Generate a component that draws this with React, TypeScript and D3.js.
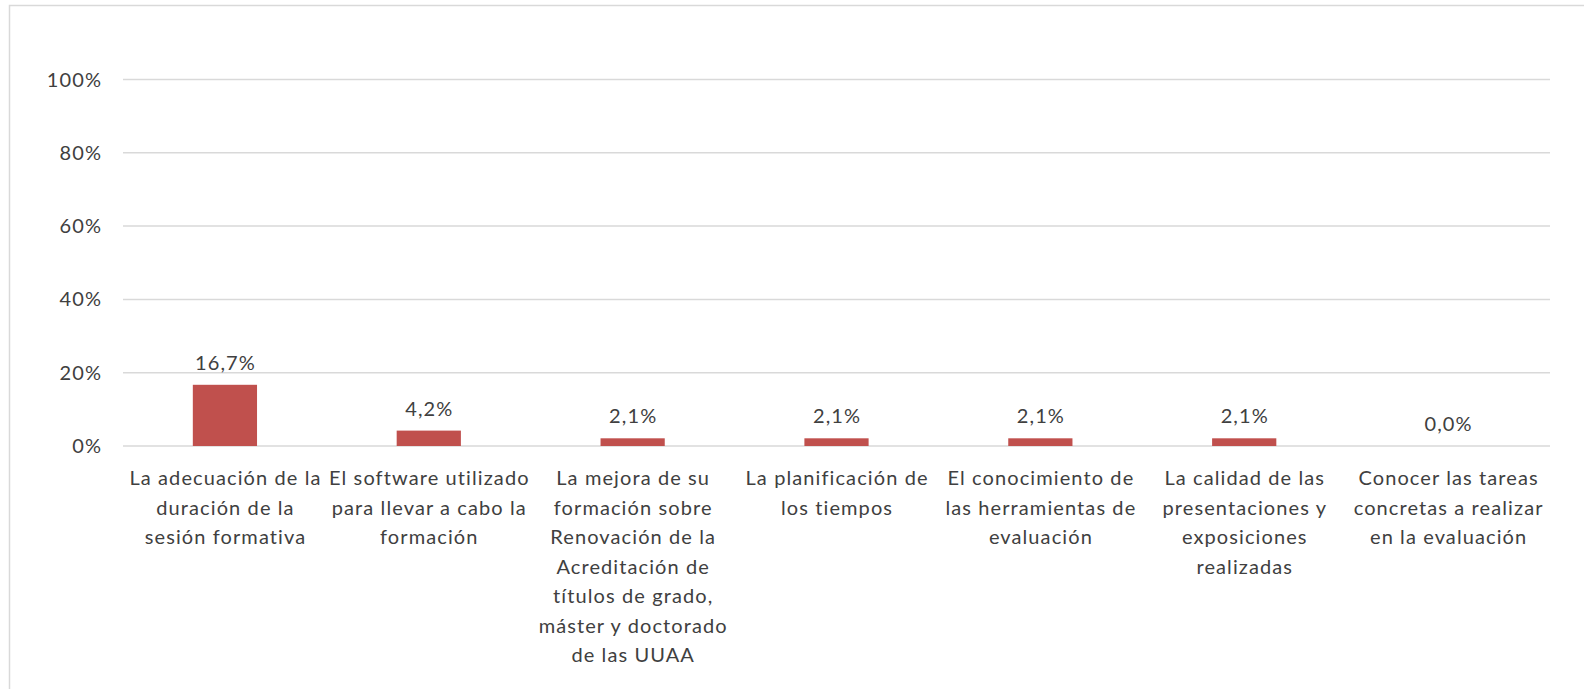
import React from "react";
import * as d3 from "d3";

const categories: string[][] = [
  ["La adecuación de la", "duración de la", "sesión formativa"],
  ["El software utilizado", "para llevar a cabo la", "formación"],
  ["La mejora de su", "formación sobre", "Renovación de la", "Acreditación de", "títulos de grado,", "máster y doctorado", "de las UUAA"],
  ["La planificación de", "los tiempos"],
  ["El conocimiento de", "las herramientas de", "evaluación"],
  ["La calidad de las", "presentaciones y", "exposiciones", "realizadas"],
  ["Conocer las tareas", "concretas a realizar", "en la evaluación"],
];
const values: number[] = [16.7, 4.2, 2.1, 2.1, 2.1, 2.1, 0.0];
const yTicks: number[] = [0, 20, 40, 60, 80, 100];

const W = 1584;
const H = 689;
const FONT = "Lato, 'Open Sans', sans-serif";
const TEXT = "#404040";
const FS = 20;
const LS = 1.1;

export default function App() {
  const left = 123;
  const right = 1550;
  const y = d3.scaleLinear().domain([0, 100]).range([446, 79.5]);
  const idx = categories.map((_, i) => String(i));
  const x = d3.scaleBand().domain(idx).range([left, right]).paddingInner(0.685).paddingOuter(0.3425);
  const fmt = (v: number) => v.toFixed(1).replace(".", ",") + "%";
  return (
    <svg width={W} height={H} style={{ position: "absolute", left: 0, top: 0 }} fontFamily={FONT} letterSpacing={LS}>
      <rect x={0} y={0} width={W} height={H} fill="#fff" />
      <rect x={9.5} y={5.5} width={W + 20} height={H + 20} fill="none" stroke="#D9D9D9" strokeWidth={1.5} />
      {yTicks.map((t) => (
        <g key={t}>
          <line x1={left} x2={right} y1={y(t)} y2={y(t)} stroke="#D9D9D9" strokeWidth={1.5} />
          <text x={101 + LS} y={y(t)} dy="0.35em" textAnchor="end" fontSize={FS} fill={TEXT}>
            {t}%
          </text>
        </g>
      ))}
      {values.map((v, i) => {
        const bx = x(String(i))!;
        const bw = x.bandwidth();
        const cx = bx + bw / 2 + LS / 2;
        return (
          <g key={i}>
            <rect x={bx} y={y(v)} width={bw} height={y(0) - y(v)} fill="#C0504D" />
            <text x={cx} y={y(v) - 22} dy="0.35em" textAnchor="middle" fontSize={FS} fill={TEXT}>
              {fmt(v)}
            </text>
            {categories[i].map((line, j) => (
              <text key={j} x={cx} y={478 + j * 29.5} dy="0.35em" textAnchor="middle" fontSize={FS} fill={TEXT}>
                {line}
              </text>
            ))}
          </g>
        );
      })}
    </svg>
  );
}
